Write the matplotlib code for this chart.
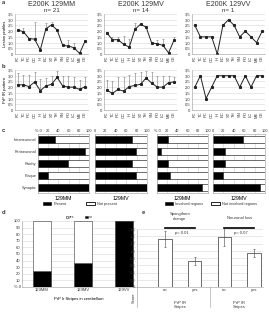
import numpy as np
import matplotlib
matplotlib.use("Agg")
import matplotlib.pyplot as plt
from matplotlib.patches import Patch

# ---- data ----
regions = ["FC", "TC", "PC", "OC", "HI", "EC", "ST", "TH", "SN", "PO", "LC", "ME", "CE"]
genotypes = ["129MM", "129MV", "129VV"]
n_cases = [21, 14, 1]

lesion_mm = [2.1, 1.95, 1.35, 1.3, 0.35, 2.2, 2.55, 2.1, 0.75, 0.7, 0.55, 0.05, 1.15]
lesion_mm_err = [0.0, 0.35, 0.0, 1.5, 0.2, 0.55, 0.25, 0.0, 0.0, 0.5, 0.4, 0.0, 0.0]
lesion_mv = [1.85, 1.25, 1.25, 0.85, 0.6, 2.15, 2.6, 2.35, 0.95, 0.9, 0.75, 0.1, 1.25]
lesion_mv_err = [0.0, 0.25, 0.25, 0.75, 0.7, 0.6, 0.0, 0.0, 0.0, 0.3, 0.55, 0.0, 0.25]
lesion_vv = [2.5, 1.5, 1.5, 1.5, 0.0, 2.5, 3.0, 2.5, 1.5, 2.0, 1.5, 1.0, 2.0]

prp_mm = [2.2, 2.2, 2.05, 2.45, 1.7, 2.1, 2.25, 2.85, 2.1, 2.0, 2.0, 1.8, 2.05]
prp_mm_err = [1.0, 0.9, 1.05, 0.85, 1.0, 0.7, 0.75, 0.55, 0.9, 1.0, 0.9, 0.8, 0.85]
prp_mv = [1.75, 1.45, 1.8, 1.65, 2.05, 2.15, 2.25, 2.8, 2.35, 2.0, 2.0, 2.4, 2.45]
prp_mv_err = [0.85, 1.05, 1.05, 1.25, 1.05, 1.05, 1.05, 0.65, 0.95, 1.0, 1.0, 0.6, 0.45]
prp_vv = [2, 3, 1, 2, 3, 3, 3, 3, 2, 3, 2, 3, 3]

patterns = ["Intraneuronal", "Perineuronal", "Patchy", "Plaque", "Synaptic"]
present_mm = [33, 92, 58, 19, 100]
present_mv = [72, 79, 72, 79, 100]
involved_mm = [21, 8, 22, 26, 88]
involved_mv = [58, 24, 24, 20, 90]

stripes_no = [24, 36, 100]

score_groups = ["Spongiform\nchange", "Neuronal loss"]
score_no = [1.32, 1.37]
score_no_err = [0.22, 0.25]
score_yes = [0.72, 0.94]
score_yes_err = [0.1, 0.12]
p_values = ["p= 0.01", "p= 0.07"]

plt.rcParams["font.family"] = ["Liberation Sans", "DejaVu Sans"]
plt.rcParams["text.color"] = "#333333"
plt.rcParams["xtick.color"] = "#333333"
plt.rcParams["ytick.color"] = "#333333"

W, H = 269, 312
fig = plt.figure(figsize=(W / 100, H / 100), dpi=100)
fs = 3.0

def box(x0, y0, x1, y1):
    return fig.add_axes([x0 / W, 1 - y1 / H, (x1 - x0) / W, (y1 - y0) / H])

def comma(v, fmt="{:.1f}"):
    return "0" if v == 0 else fmt.format(v).replace(".", ",")

def light(ax):
    for s in ax.spines.values():
        s.set_color("#999999")
        s.set_linewidth(0.4)
    ax.tick_params(length=0, labelsize=fs, pad=1)

def profile(ax, y, err=None):
    x = np.arange(len(regions))
    if err is not None:
        ax.errorbar(x, y, yerr=[np.zeros(len(y)), err], fmt="none", ecolor="#777777",
                    elinewidth=0.4, capsize=0.8, capthick=0.4)
    ax.plot(x, y, color="#222222", lw=0.7, marker="s", ms=1.2)
    ax.set_ylim(0, 3.5)
    ax.set_xlim(-0.5, len(regions) - 0.5)
    ax.set_yticks(np.arange(0, 3.6, 0.5))
    ax.set_yticklabels([comma(v) for v in np.arange(0, 3.6, 0.5)])
    ax.set_xticks(x)
    ax.set_xticklabels(regions, rotation=90)
    ax.yaxis.grid(True, color="#d8d8d8", lw=0.4)
    ax.set_axisbelow(True)
    light(ax)
    ax.spines["top"].set_visible(False)
    ax.spines["right"].set_visible(False)

xs = [(15, 88), (104, 177), (192, 265)]
lesions = [(lesion_mm, lesion_mm_err), (lesion_mv, lesion_mv_err), (lesion_vv, None)]
prps = [(prp_mm, prp_mm_err), (prp_mv, prp_mv_err), (prp_vv, None)]
for i in range(3):
    ax = box(xs[i][0], 14, xs[i][1], 54)
    profile(ax, *lesions[i])
    cx = (xs[i][0] + xs[i][1]) / 2
    fig.text(cx / W, 1 - 4 / H, "E200K " + genotypes[i], ha="center", va="center", fontsize=5)
    fig.text(cx / W, 1 - 11 / H, "n= %d" % n_cases[i], ha="center", va="center", fontsize=4.5)
    if i == 0:
        ax.set_ylabel("Lesion profiles", fontsize=fs, labelpad=1)
    ax = box(xs[i][0], 70, xs[i][1], 110)
    profile(ax, *prps[i])
    if i == 0:
        ax.set_ylabel("PrP IR pattern", fontsize=fs, labelpad=1)

for lab, x, y in [("a", 2, 3), ("b", 2, 67), ("c", 2, 130), ("d", 2, 212), ("e", 142, 212)]:
    fig.text(x / W, 1 - y / H, lab, fontsize=4.2, fontweight="bold", va="center")

# ---- c: horizontal bars ----
cx_pos = [(38, 89), (95, 147), (157, 208), (213, 265)]
c_vals = [present_mm, present_mv, involved_mm, involved_mv]
c_names = ["129MM", "129MV", "129MM", "129MV"]
yy = np.arange(len(patterns))
for i in range(4):
    ax = box(cx_pos[i][0], 134, cx_pos[i][1], 193)
    v = np.array(c_vals[i])
    ax.barh(yy, v, height=0.6, color="black", edgecolor="black", lw=0.4)
    ax.barh(yy, 100 - v, left=v, height=0.6, color="white", edgecolor="black", lw=0.4)
    ax.set_xlim(0, 100)
    ax.set_ylim(len(patterns) - 0.5, -0.5)
    ax.xaxis.tick_top()
    ax.set_xticks(np.arange(0, 101, 20))
    lab = [str(t) for t in range(0, 101, 20)]
    if i in (0, 2):
        lab[0] = "% 0"
    ax.set_xticklabels(lab)
    ax.xaxis.grid(True, color="#cccccc", lw=0.4)
    ax.set_axisbelow(True)
    ax.set_yticks(yy)
    if i == 0:
        ax.set_yticklabels(patterns)
    else:
        ax.set_yticklabels([])
    light(ax)
    ax.tick_params(labelsize=2.8)
    ax.set_xlabel(c_names[i], fontsize=3.8, labelpad=2)

leg1 = [Patch(facecolor="black", edgecolor="black", lw=0.4, label="Present"),
        Patch(facecolor="white", edgecolor="black", lw=0.6, label="Not present")]
fig.legend(handles=leg1, loc="center", bbox_to_anchor=(80 / W, 1 - 204 / H), ncol=2,
           frameon=False, fontsize=2.8, handlelength=2.2, handleheight=0.7,
           columnspacing=5, handletextpad=0.6)
leg2 = [Patch(facecolor="black", edgecolor="black", lw=0.4, label="Involved regions"),
        Patch(facecolor="white", edgecolor="black", lw=0.6, label="Not involved regions")]
fig.legend(handles=leg2, loc="center", bbox_to_anchor=(211 / W, 1 - 204 / H), ncol=2,
           frameon=False, fontsize=2.8, handlelength=2.2, handleheight=0.7,
           columnspacing=2, handletextpad=0.6)

# ---- d: stacked bars ----
ax = box(22, 221, 136, 287)
xd = np.arange(len(genotypes))
no_v = np.array(stripes_no)
ax.bar(xd, no_v, width=0.42, color="black", edgecolor="#333333", lw=0.4, label="no")
ax.bar(xd, 100 - no_v, bottom=no_v, width=0.42, color="white", edgecolor="#333333", lw=0.4,
       label="yes")
ax.set_xlim(-0.49, 2.29)
ax.set_ylim(0, 100)
ax.set_yticks(np.arange(0, 101, 10))
ax.set_yticklabels(["% 0"] + [str(t) for t in range(10, 101, 10)])
ax.set_xticks(xd)
ax.set_xticklabels(genotypes)
ax.yaxis.grid(True, color="#d8d8d8", lw=0.4)
ax.set_axisbelow(True)
light(ax)
ax.spines["top"].set_visible(False)
ax.spines["right"].set_visible(False)
ax.set_xlabel("PrP Ir Stripes in cerebellum", fontsize=fs, labelpad=3)
h, l = ax.get_legend_handles_labels()
ax.legend(h[::-1], l[::-1], loc="lower center", bbox_to_anchor=(0.5, 0.98), ncol=2,
          frameon=False, fontsize=2.5, handlelength=0.8, handleheight=0.6,
          columnspacing=3, handletextpad=0.2)

# ---- e: score bars ----
ax = box(137, 229, 263, 287)
xe = np.array([0, 1, 2, 3])
vals = [score_no[0], score_yes[0], score_no[1], score_yes[1]]
errs = [score_no_err[0], score_yes_err[0], score_no_err[1], score_yes_err[1]]
ax.bar(xe, vals, width=0.45, color="white", edgecolor="#333333", lw=0.5,
       yerr=errs, error_kw=dict(ecolor="#444444", elinewidth=0.4, capsize=1, capthick=0.4))
ax.set_xlim(-0.95, 3.3)
ax.set_ylim(0, 1.6)
ax.set_yticks(np.arange(0, 1.61, 0.2))
ax.set_yticklabels([comma(v) for v in np.arange(0, 1.61, 0.2)])
ax.set_xticks(xe)
ax.set_xticklabels(["no", "yes", "no", "yes"])
ax.yaxis.grid(True, color="#d8d8d8", lw=0.4)
ax.set_axisbelow(True)
light(ax)
ax.spines["top"].set_visible(False)
ax.spines["right"].set_visible(False)
for g in range(2):
    x0, x1 = xe[2 * g], xe[2 * g + 1]
    ax.plot([x0, x1], [1.63, 1.63], color="black", lw=1.2, clip_on=False)
    ax.text((x0 + x1) / 2 + 0.05, 1.5, p_values[g], ha="center", va="center", fontsize=fs)
    ax.text((x0 + x1) / 2, 1.95 if g == 0 else 1.9, score_groups[g], ha="center",
            va="center", fontsize=fs)
    ax.text((x0 + x1) / 2, -0.5, "PrP IR\nStripes", ha="center", va="center",
            fontsize=fs)
ax.plot([1.5, 1.5], [0, -0.55], color="#999999", lw=0.4, clip_on=False)
ax.plot([-0.95, -0.95], [0, -0.55], color="#999999", lw=0.4, clip_on=False)
ax.text(-1.0, -0.3, "Score", rotation=90, ha="right", va="center", fontsize=fs)

fig.savefig("out.png", dpi=100)
